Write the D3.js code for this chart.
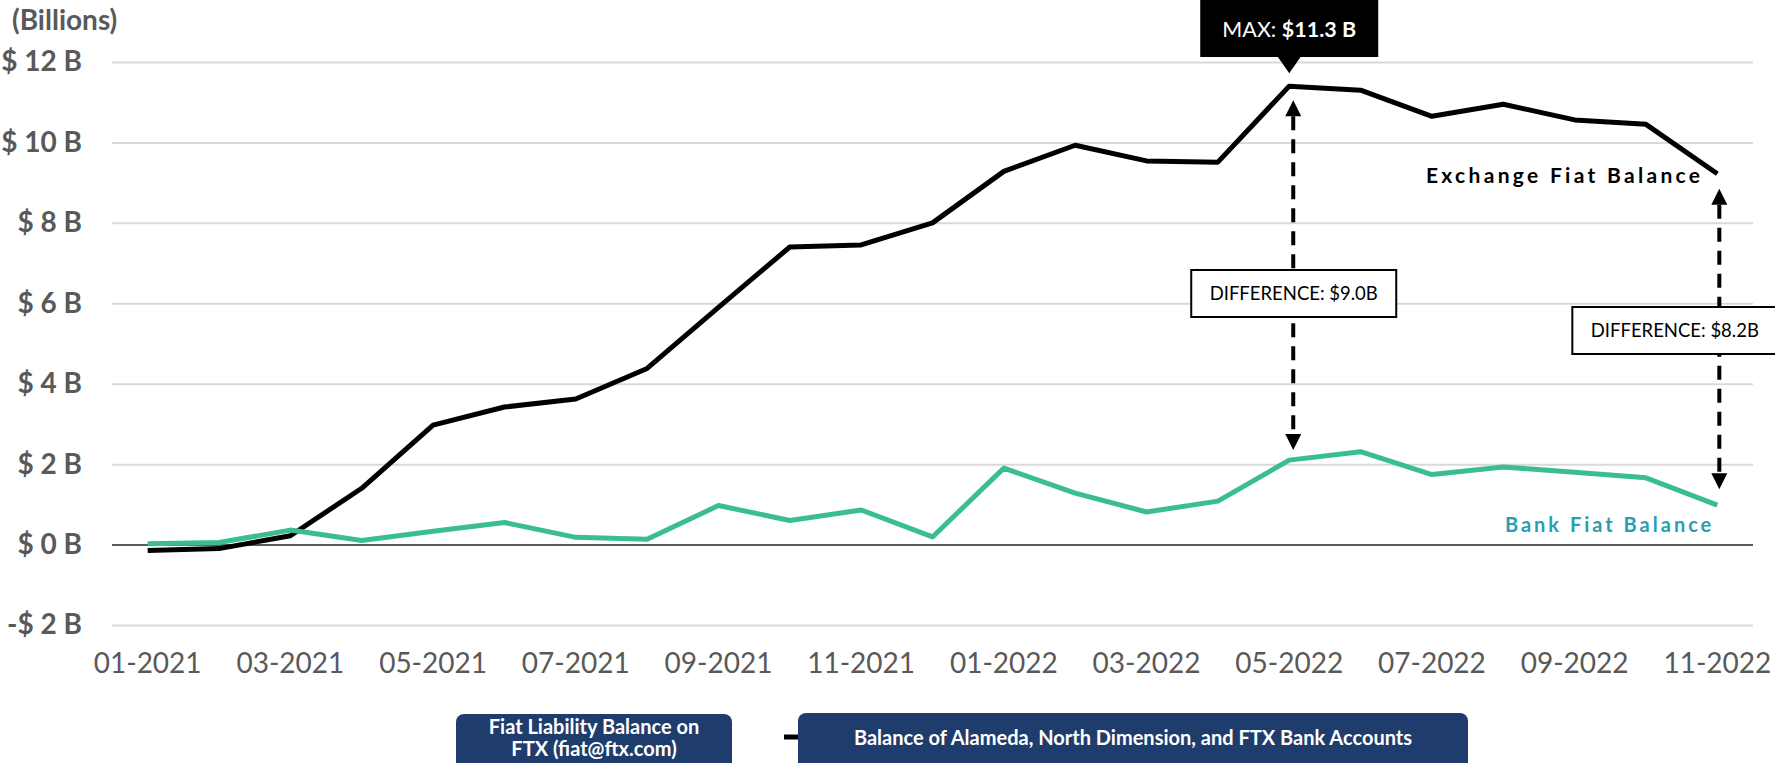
<!DOCTYPE html>
<html lang="en">
<head>
    <meta charset="utf-8">
    <title>Exchange vs bank fiat balance</title>
    <script src="https://cdn.jsdelivr.net/npm/d3@7/dist/d3.min.js"></script>
    <style>
        html, body {
            margin: 0;
            padding: 0;
            background: #fff;
        }
        svg { display: block; }
        text {
            font-family: Lato, "Liberation Sans", sans-serif;
        }
        .axis path { display: none; }
        .axis.y line { stroke: #d9d9d9; stroke-width: 2px; }
        .axis.y text { font-size: 28px; font-weight: bold; fill: #595959; }
        .axis.x text { font-size: 28px; fill: #595959; }
        path.line {
            fill: none;
            stroke-width: 5px;
            stroke-linejoin: round;
        }
        .dash { stroke: #000; stroke-width: 4px; stroke-dasharray: 14,9; }
        .note { font-size: 18.5px; fill: #000; }
        .legend text { font-size: 20px; font-weight: bold; fill: #fff; }
    </style>
</head>
<body>
<script>
    var months = ["01-2021", "02-2021", "03-2021", "04-2021", "05-2021", "06-2021", "07-2021", "08-2021",
        "09-2021", "10-2021", "11-2021", "12-2021", "01-2022", "02-2022", "03-2022", "04-2022",
        "05-2022", "06-2022", "07-2022", "08-2022", "09-2022", "10-2022", "11-2022"];
    // $ billions
    var exchangeFiat = [-0.15, -0.1, 0.22, 1.4, 2.97, 3.42, 3.62, 4.38, 5.9, 7.4, 7.45, 8.0,
        9.28, 9.93, 9.54, 9.51, 11.4, 11.3, 10.65, 10.95, 10.56, 10.45, 9.22];
    var bankFiat = [0.02, 0.05, 0.36, 0.1, 0.33, 0.55, 0.18, 0.13, 0.97, 0.6, 0.86, 0.19,
        1.9, 1.28, 0.81, 1.08, 2.1, 2.31, 1.74, 1.93, 1.8, 1.66, 0.98];
    var yTicks = [-2, 0, 2, 4, 6, 8, 10, 12];
    var xTicks = months.filter(function(d, i) { return i % 2 === 0; });

    var maxLabel = "$11.3 B";
    var diffLabels = ["DIFFERENCE: $9.0B", "DIFFERENCE: $8.2B"];
    var legendLabels = [["Fiat Liability Balance on", "FTX (fiat@ftx.com)"],
        ["Balance of Alameda, North Dimension, and FTX Bank Accounts"]];

    var W = 1775, H = 763;
    var plotLeft = 112, plotRight = 1753;

    var x = d3.scaleBand().domain(months).range([plotLeft, plotRight]);
    var y = d3.scaleLinear().domain([-2, 12]).range([625, 62]);
    function cx(m) { return x(m) + x.bandwidth() / 2; }

    var svg = d3.select("body").append("svg").attr("width", W).attr("height", H);

    // y axis + gridlines
    var yAxis = d3.axisLeft(y).tickValues(yTicks)
        .tickSize(-(plotRight - plotLeft)).tickPadding(30)
        .tickFormat(function(d) { return (d < 0 ? "-" : "") + "$ " + Math.abs(d) + " B"; });
    var gy = svg.append("g").attr("class", "axis y")
        .attr("transform", "translate(" + plotLeft + ",0)").call(yAxis);
    gy.selectAll(".tick").filter(function(d) { return d === 0; }).select("line")
        .style("stroke", "#595959");

    svg.append("text").attr("x", 12).attr("y", 20).attr("dy", "0.35em")
        .style("font-size", "28px").style("font-weight", "bold").style("fill", "#595959")
        .text("(Billions)");

    // x axis
    var xAxis = d3.axisBottom(x).tickValues(xTicks).tickSize(0).tickPadding(28);
    svg.append("g").attr("class", "axis x")
        .attr("transform", "translate(0," + y(-2) + ")").call(xAxis);

    // lines
    var line = d3.line()
        .x(function(d, i) { return cx(months[i]); })
        .y(function(d) { return y(d); });
    svg.append("path").attr("class", "line").attr("d", line(exchangeFiat)).style("stroke", "#000");
    svg.append("path").attr("class", "line").attr("d", line(bankFiat)).style("stroke", "#3bbd93");

    // line labels
    var last = months.length - 1;
    svg.append("text").attr("x", cx(months[last]) - 14).attr("y", y(exchangeFiat[last]) + 9)
        .attr("text-anchor", "end").style("font-size", "21px").style("font-weight", "bold")
        .style("letter-spacing", "3.3px").text("Exchange Fiat Balance");
    svg.append("text").attr("x", cx(months[last]) - 3).attr("y", y(bankFiat[last]) + 27)
        .attr("text-anchor", "end").style("font-size", "20px").style("font-weight", "bold")
        .style("letter-spacing", "3px").style("fill", "#2b9db3").text("Bank Fiat Balance");

    // difference arrows
    function arrow(ax, y1, y2) {
        var g = svg.append("g");
        g.append("line").attr("class", "dash").attr("x1", ax).attr("x2", ax)
            .attr("y1", y1 + 16).attr("y2", y2 - 16);
        g.append("path").attr("d", "M" + ax + "," + y1 + "l-8,16h16z");
        g.append("path").attr("d", "M" + ax + "," + y2 + "l-8,-16h16z");
    }
    var maxI = exchangeFiat.indexOf(d3.max(exchangeFiat));
    var ax1 = cx(months[maxI]) + 4;
    var ax2 = cx(months[last]) + 2;
    arrow(ax1, y(exchangeFiat[maxI]) + 14, y(bankFiat[maxI]) - 10);
    arrow(ax2, y(exchangeFiat[last]) + 15, y(bankFiat[last]) - 16);

    function noteBox(bx, by, txt) {
        svg.append("rect").attr("x", bx).attr("y", by).attr("width", 205).attr("height", 47)
            .style("fill", "#fff").style("stroke", "#000").style("stroke-width", "2px");
        svg.append("text").attr("class", "note").attr("x", bx + 102.5).attr("y", by + 24)
            .attr("dy", "0.35em").attr("text-anchor", "middle").text(txt);
    }
    noteBox(ax1 - 102, 270, diffLabels[0]);
    noteBox(ax2 - 147, 307, diffLabels[1]);

    // max callout
    var mx = cx(months[maxI]);
    var my = y(exchangeFiat[maxI]);
    svg.append("rect").attr("x", mx - 89).attr("y", -5).attr("width", 178).attr("height", 62)
        .style("fill", "#000");
    svg.append("path").attr("d", "M" + (mx - 12) + ",56h24l-12," + (my - 13 - 56) + "z")
        .style("fill", "#000");
    var mt = svg.append("text").attr("x", mx).attr("y", 37).attr("text-anchor", "middle")
        .style("font-size", "21.5px").style("fill", "#fff");
    mt.append("tspan").text("MAX: ");
    mt.append("tspan").style("font-weight", "bold").text(maxLabel);

    // legend
    var lg = svg.append("g").attr("class", "legend");
    lg.append("line").attr("x1", 784).attr("x2", 802).attr("y1", 737).attr("y2", 737)
        .style("stroke", "#000").style("stroke-width", "5px");
    lg.append("rect").attr("x", 456).attr("y", 714).attr("width", 276).attr("height", 60)
        .attr("rx", 8).style("fill", "#1f3d6c");
    lg.append("rect").attr("x", 798).attr("y", 713).attr("width", 670).attr("height", 60)
        .attr("rx", 8).style("fill", "#1f3d6c");
    lg.append("text").attr("x", 594).attr("y", 734).attr("text-anchor", "middle").text(legendLabels[0][0]);
    lg.append("text").attr("x", 594).attr("y", 756).attr("text-anchor", "middle").text(legendLabels[0][1]);
    lg.append("text").attr("x", 1133).attr("y", 745).attr("text-anchor", "middle").text(legendLabels[1][0]);
</script>
</body>
</html>
